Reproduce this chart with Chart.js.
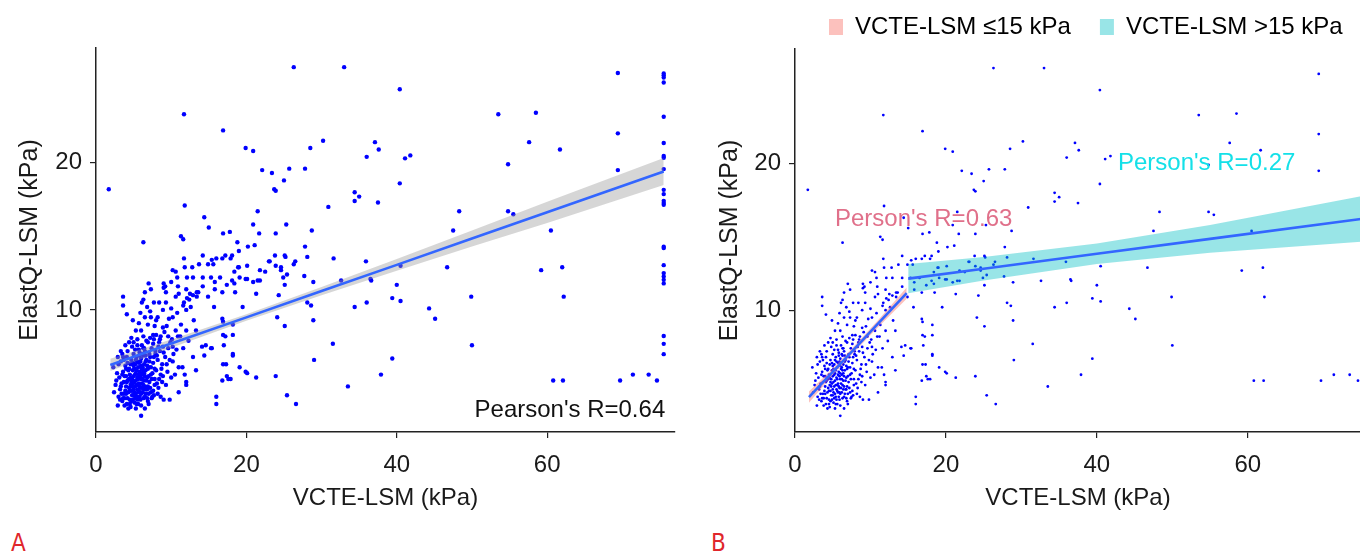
<!DOCTYPE html>
<html>
<head>
<meta charset="utf-8">
<script src="https://cdn.jsdelivr.net/npm/chart.js@4.4.1/dist/chart.umd.min.js"></script>
<style>
  body { margin: 0; background: #fff; width: 1360px; height: 553px; position: relative; overflow: hidden; }
  canvas { position: absolute; top: 0; }
  #chartA { left: 0; }
  #chartB { left: 700px; }
  .tag { position: absolute; top: 529px; color: #e0262b; font: 24px 'Liberation Sans Narrow', 'DejaVu Sans Condensed', sans-serif; }
</style>
</head>
<body>
<canvas id="chartA" width="690" height="520"></canvas>
<canvas id="chartB" width="665" height="520"></canvas>
<div class="tag" style="left:11px">A</div>
<div class="tag" style="left:711px">B</div>
<script>
// [VCTE-LSM, ElastQ-LSM]
const scatterPoints = [
  [1.7,18.2],[11.7,23.3],[16.9,22.2],[19.9,21.0],[20.9,20.8],[22.1,19.5],[23.4,19.3],[25.7,19.6],[25.0,18.8],[23.7,18.2],
  [23.9,18.1],[26.3,26.5],[33.0,26.5],[30.2,21.5],[28.5,21.0],[27.8,19.6],[37.1,21.4],[37.6,20.9],[36.0,20.4],[41.1,20.3],
  [41.8,20.5],[40.4,25.0],[40.4,18.6],[34.4,18.0],[35.0,17.7],[34.4,17.4],[37.5,17.3],[30.9,17.0],[28.7,15.4],[48.3,16.7],
  [47.5,15.4],[27.8,14.3],[53.5,23.3],[58.5,23.4],[57.6,21.4],[61.7,20.9],[54.8,19.9],[54.8,16.7],[55.5,16.5],[60.5,15.4],
  [69.4,26.1],[69.4,22.0],[69.4,19.5],[69.7,5.2],[71.4,5.6],[73.5,5.6],[74.6,5.2],[60.8,5.2],[62.1,5.2],[62.0,12.9],
  [62.2,10.9],[59.2,12.7],[50.0,7.6],[49.9,10.9],[46.7,12.9],[44.3,10.1],[45.1,9.4],[39.4,6.7],[37.9,5.6],[35.9,13.3],
  [36.6,12.0],[36.5,12.1],[36.0,10.5],[40.0,11.7],[39.4,10.8],[40.5,10.6],[40.5,13.0],
  [75.5,26.07],[75.5,25.94],[75.5,25.8],[75.5,25.46],[75.5,23.13],[75.5,21.34],[75.5,20.46],[75.5,20.34],[75.5,19.57],
  [75.5,18.16],[75.5,17.87],[75.5,17.41],[75.5,17.26],[75.5,17.14],[75.5,14.29],[75.5,14.2],[75.5,13.04],[75.5,12.5],
  [75.5,12.27],[75.5,12.04],[75.5,11.8],[75.5,8.23],[75.5,7.69],[75.5,6.99],
  [18.8,14.6],[20.2,14.3],[21.1,14.4],[19.0,14.0],[16.0,13.5],[17.2,13.7],[18.1,13.7],[16.8,13.5],[17.9,13.5],[15.6,13.1],
  [19.0,12.9],[20.1,13.0],[18.4,12.6],[19.1,12.2],[20.1,12.1],[20.9,11.9],[21.5,12.0],[21.8,12.0],[16.5,12.2],[17.4,11.7],
  [18.1,12.0],[15.8,11.4],[16.8,11.2],[18.5,11.2],[21.3,11.1],[23.8,13.7],[23.0,13.3],[25.1,13.7],[25.2,13.6],[23.9,13.0],
  [24.6,12.7],[21.8,12.7],[22.5,12.6],[24.9,12.2],[25.1,11.7],[26.5,13.3],[26.3,13.1],[28.1,13.6],[27.7,12.3],[28.9,11.9],
  [24.3,11.0],[28.1,10.5],[28.6,10.3],[28.9,9.3],[31.6,13.5],[32.6,12.0],[34.4,10.2],[24.1,9.5],[25.1,8.9],[19.5,10.2],
  [16.8,9.4],[18.2,9.0],[17.2,8.2],[18.2,8.3],[17.0,7.6],[18.2,6.9],[15.4,7.4],[17.3,6.3],[19.1,6.1],[19.9,5.8],
  [17.4,5.5],[16.8,5.2],[17.9,5.3],[21.3,5.4],[23.9,5.5],[16.0,4.1],[16.0,3.6],[25.4,4.2],[26.6,3.6],[29.0,6.6],
  [31.5,7.7],[33.5,4.8],[11.8,17.1],[21.5,16.7],[14.4,16.3],[15.0,15.6],[11.3,15.0],[11.6,14.8],[16.9,15.2],[17.8,15.3],
  [20.9,15.8],[21.7,15.2],[23.9,15.2],[25.3,15.8],[6.3,14.6],[25.4,12.4],[23.1,13.3],[24.6,12.9],
  [14.2,13.7],[15.4,13.4],[11.7,13.5],[11.8,12.9],[12.8,12.9],[13.7,13.1],[14.9,13.1],[10.2,12.7],[10.6,12.6],[12.9,12.2],
  [14.2,12.2],[15.3,12.2],[12.1,12.2],[10.0,11.9],[9.0,11.8],[9.0,11.5],[9.3,11.2],[7.0,11.8],[6.5,11.2],[7.3,11.4],
  [6.3,10.7],[6.1,10.5],[3.6,10.9],[3.6,10.3],[4.1,9.7],[10.9,11.6],[11.0,11.1],[10.6,10.9],[12.0,11.4],[12.4,10.7],
  [11.7,10.5],[12.9,11.0],[13.4,11.2],[12.6,10.2],[12.0,10.0],[7.7,10.5],[8.4,10.5],[9.3,10.5],[8.9,10.0],[10.0,10.1],
  [10.2,9.5],[8.2,9.5],[7.3,9.5],[6.9,9.0],[7.8,8.9],[8.9,8.8],[9.4,8.9],[5.7,9.1],[4.9,9.3],[5.3,8.6],
  [4.7,8.1],[6.3,8.2],[7.6,8.3],[8.6,8.2],[9.6,8.2],[7.7,8.0],[10.6,8.6],[12.0,8.6],[13.3,8.6],[10.9,8.2],
  [10.2,7.5],[11.6,7.4],[8.9,7.5],[9.2,6.8],[10.2,6.5],[11.0,6.1],[11.5,6.1],[12.9,6.8],[13.3,5.9],[14.6,7.6],
  [14.1,7.5],[14.4,6.9],[15.3,7.4],[11.8,5.6],[12.0,5.1],[12.0,4.9],[10.5,5.6],[10.0,5.4],[8.8,5.1],[9.3,4.9],
  [7.7,4.2],[8.6,4.1],[9.0,3.9],[9.8,3.9],[11.0,4.4],[6.0,2.8],[5.3,3.3],[2.9,3.5],[2.4,4.4],[2.7,5.2],
  [2.3,6.1],[2.9,6.8],[3.6,6.8],
  [9.2,11.6],[10.8,12.2],[15.8,11.9],[18.4,11.8],[19.9,12.1],[14.2,11.6],[13.6,11.2],[12.5,11.1],[12.1,10.8],[11.6,10.3],
  [13.4,10.9],[14.9,10.9],[15.7,10.2],[16.9,9.2],[16.9,8.3],[18.2,7.0],[16.9,6.3],[20.1,5.7],[17.6,5.3],[18.9,12.9],
  [3.0,4.1],[3.2,4.6],[3.4,5.0],[3.5,3.8],[3.7,4.3],[3.8,5.5],[3.9,6.2],[4.0,4.8],[4.1,3.6],[4.2,5.2],
  [4.3,4.4],[4.4,6.0],[4.5,5.6],[4.5,3.9],[4.6,4.9],[4.7,6.6],[4.8,4.2],[4.8,5.3],[4.9,5.9],[5.0,4.6],
  [5.0,7.0],[5.1,3.7],[5.1,5.1],[5.2,6.3],[5.3,4.3],[5.3,5.7],[5.4,4.9],[5.4,6.8],[5.5,3.9],[5.5,5.4],
  [5.6,6.1],[5.6,4.5],[5.7,7.3],[5.7,5.0],[5.8,4.1],[5.8,5.8],[5.9,6.5],[5.9,4.7],[6.0,5.3],[6.0,3.5],
  [6.1,6.0],[6.1,7.6],[6.2,4.4],[6.2,5.6],[6.3,6.9],[6.3,4.9],[6.4,5.2],[6.4,6.3],[6.5,4.1],[6.5,7.2],
  [6.6,5.9],[6.7,4.6],[6.7,6.6],[6.8,5.4],[6.9,7.8],[6.9,4.8],[7.0,6.1],[7.1,5.1],[7.2,6.8],[7.3,4.4],
  [7.4,7.4],[7.5,5.7],[7.6,6.4],[7.8,4.9],[7.9,7.0],[8.0,5.9],[8.2,6.6],[8.4,5.3],[8.5,7.2],[8.7,6.0],
  [3.1,5.4],[3.3,6.5],[3.6,4.0],[3.6,5.8],[3.9,4.5],[4.0,5.5],[4.1,6.8],[4.2,4.0],[4.3,5.9],[4.4,4.7],
  [4.6,3.4],[4.6,5.4],[4.7,4.5],[4.9,6.4],[4.9,3.9],[5.0,5.5],[5.2,4.0],[5.2,4.8],[5.3,6.6],[5.4,5.9],
  [5.5,4.6],[5.6,3.6],[5.6,5.3],[5.7,6.4],[5.8,4.8],[5.9,3.9],[5.9,5.5],[6.0,6.7],[6.0,4.3],[6.1,5.0],
  [6.2,7.0],[6.3,4.0],[6.3,5.9],[6.4,4.6],[6.5,5.5],[6.6,6.9],[6.6,4.3],[6.7,5.2],[6.8,6.2],[6.9,3.8],
  [7.0,5.5],[7.1,7.0],[7.2,4.7],[7.3,6.1],[7.4,5.3],[7.6,4.5],[7.7,6.8],[8.1,5.0],[8.3,7.5],[8.6,5.6],
  [2.6,4.9],[2.8,5.7],[3.0,6.3],[3.2,3.9],[3.4,4.3],[3.5,7.0],[3.7,5.1],[3.8,3.5],[4.0,6.0],[4.2,7.2],
  [4.3,3.3],[4.5,4.5],[4.7,5.1],[4.8,7.5],[5.0,4.2],[5.1,6.0],[5.2,5.6],[5.4,4.1],[5.5,7.6],[5.7,4.4],
  [5.8,6.9],[6.0,5.7],[6.2,6.1],[6.4,7.4],[6.5,3.3],[6.7,7.9],[6.8,4.0],[7.0,3.6],[7.2,8.1],[7.5,4.1],
  [7.8,5.3],[8.0,8.3],[8.2,4.3],[8.8,6.3],[9.0,7.1],[9.5,5.8],[9.8,6.6],[10.3,7.0],
  [5.0,7.8],[5.5,8.0],[6.0,8.6],[6.5,9.5],[7.2,9.9],[5.9,9.8],[6.8,10.2],[4.4,7.8],[3.9,7.6],[3.3,7.2],
  [8.0,9.3],[9.7,9.4],[10.8,9.8],[11.3,9.0],[9.9,7.8],[8.4,7.8],[7.9,7.2],
  [3.3,4.8],[3.5,5.6],[3.7,6.6],[3.8,4.0],[4.0,4.3],[4.1,5.1],[4.2,6.4],[4.4,5.3],[4.5,3.6],[4.6,6.3],
  [4.7,3.8],[4.8,4.8],[4.9,5.0],[5.0,6.2],[5.1,4.4],[5.2,7.3],[5.3,5.2],[5.4,3.6],[5.5,6.5],[5.6,4.9],
  [5.7,5.6],[5.8,7.1],[5.9,4.4],[6.0,6.2],[6.1,4.7],[6.2,5.3],[6.3,7.4],[6.4,5.7],[6.5,4.8],[6.6,6.5],
  [6.8,4.6],[6.9,6.0],[7.0,4.3],[7.1,6.5],[7.3,5.6],[7.4,4.0],[7.6,7.7],[7.8,6.0],[8.1,6.9],[8.3,4.7],
  [8.5,8.0],[8.9,5.5],[9.1,8.5],[9.4,6.3],[9.6,7.4],[10.1,8.0],[10.7,7.3],[11.2,8.2],[12.3,7.9],[13.0,9.3]
];

// panel A: overall linear fit with 95% band
const fitAX = [1.9, 10, 20, 30, 40, 50, 60, 75.5];
const fitAY = [6.26, 7.71, 9.49, 11.28, 13.06, 14.85, 16.63, 19.40];
const fitALow = [5.84, 7.43, 9.27, 11.00, 12.66, 14.30, 15.91, 18.48];
const fitAHigh = [6.68, 7.99, 9.71, 11.56, 13.46, 15.40, 17.35, 20.32];

// panel B: split fits at 15 kPa
const fitB1X = [1.85, 5, 8, 11, 14.8];
const fitB1Y = [4.08, 5.80, 7.44, 9.08, 11.16];
const fitB1Low = [3.70, 5.58, 7.24, 8.84, 10.78];
const fitB1High = [4.46, 6.02, 7.64, 9.32, 11.54];
const fitB2X = [15, 25, 40, 55, 75];
const fitB2Y = [12.15, 12.83, 13.85, 14.86, 16.22];
const fitB2Low = [11.15, 12.03, 13.15, 13.91, 14.67];
const fitB2High = [13.15, 13.63, 14.55, 15.81, 17.77];

const xTicks = [0, 20, 40, 60];
const yTicks = [10, 20];
const legendLabels = ['VCTE-LSM \u226415 kPa   ', 'VCTE-LSM >15 kPa  '];
const notesA = [{ text: "Pearson's R=0.64", x: 75.7, y: 3.2, color: '#111', align: 'right' }];
const notesB = [
  { text: "Person's R=0.63", x: 5.3, y: 16.2, color: '#e0708a', align: 'left' },
  { text: "Person's R=0.27", x: 42.8, y: 20.0, color: '#14e0e8', align: 'left' }
];

const FONT = "'Liberation Sans', Arial, sans-serif";
const BLUE = '#3366ff';
const PINK_FILL = 'rgba(248,118,109,0.45)';
const CYAN_FILL = 'rgba(0,191,196,0.4)';

const toXY = (xs, ys) => xs.map((v, i) => ({ x: v, y: ys[i] }));

const notePlugin = {
  id: 'notes',
  afterDatasetsDraw(chart, args, opts) {
    const { ctx, scales } = chart;
    (opts.items || []).forEach(n => {
      ctx.save();
      ctx.font = '24px ' + FONT;
      ctx.fillStyle = n.color;
      ctx.textAlign = n.align;
      ctx.textBaseline = 'middle';
      ctx.fillText(n.text, scales.x.getPixelForValue(n.x), scales.y.getPixelForValue(n.y));
      ctx.restore();
    });
  }
};

function bandSets(xs, low, high, fill) {
  return [
    { type: 'line', data: toXY(xs, low), borderWidth: 0, pointRadius: 0, fill: false, order: 3 },
    { type: 'line', data: toXY(xs, high), borderWidth: 0, pointRadius: 0, fill: '-1', backgroundColor: fill, order: 3 }
  ];
}

function lineSet(xs, ys) {
  return { type: 'line', data: toXY(xs, ys), borderColor: BLUE, borderWidth: 2.6, pointRadius: 0, fill: false, order: 1 };
}

function makeScales(xMax, yWidth) {
  return {
    x: {
      type: 'linear', min: 0, max: xMax,
      afterBuildTicks: s => { s.ticks = xTicks.map(v => ({ value: v })); },
      afterFit: s => { s.height = 88; },
      grid: { display: true, drawOnChartArea: false, drawTicks: true, tickLength: 6, color: '#222', lineWidth: 1.2 },
      border: { display: true, color: '#222', width: 1.5 },
      ticks: { color: '#1a1a1a', padding: 13, maxRotation: 0, font: { size: 24, family: FONT } },
      title: { display: true, text: 'VCTE-LSM (kPa)', color: '#1a1a1a', padding: { top: 0, bottom: 7 }, font: { size: 24, family: FONT } }
    },
    y: {
      type: 'linear', min: 1.7, max: 27.8,
      afterBuildTicks: s => { s.ticks = yTicks.map(v => ({ value: v })); },
      afterFit: s => { s.width = yWidth; },
      grid: { display: true, drawOnChartArea: false, drawTicks: true, tickLength: 6, color: '#222', lineWidth: 1.2 },
      border: { display: true, color: '#222', width: 1.5 },
      ticks: { color: '#1a1a1a', padding: 8, font: { size: 24, family: FONT } },
      title: { display: true, text: 'ElastQ-LSM (kPa)', color: '#1a1a1a', padding: { top: 15, bottom: 0 }, font: { size: 25, family: FONT } }
    }
  };
}

const scatterData = scatterPoints.map(p => ({ x: p[0], y: p[1] }));

new Chart(document.getElementById('chartA'), {
  type: 'scatter',
  data: {
    datasets: [
      { data: scatterData, backgroundColor: '#0000ff', borderWidth: 0, pointRadius: 2.2, order: 4 },
      ...bandSets(fitAX, fitALow, fitAHigh, 'rgba(153,153,153,0.4)'),
      lineSet(fitAX, fitAY)
    ]
  },
  options: {
    responsive: false, animation: false,
    layout: { padding: { top: 48, right: 15, left: 0, bottom: 0 } },
    scales: makeScales(77, 96),
    plugins: { legend: { display: false }, tooltip: { enabled: false }, notes: { items: notesA } }
  },
  plugins: [notePlugin]
});

new Chart(document.getElementById('chartB'), {
  type: 'scatter',
  data: {
    datasets: [
      { data: scatterData, backgroundColor: '#0000ff', borderWidth: 0, pointRadius: 1.4, order: 4 },
      ...bandSets(fitB1X, fitB1Low, fitB1High, PINK_FILL),
      ...bandSets(fitB2X, fitB2Low, fitB2High, CYAN_FILL),
      lineSet(fitB1X, fitB1Y),
      lineSet(fitB2X, fitB2Y)
    ]
  },
  options: {
    responsive: false, animation: false,
    layout: { padding: { top: 6, right: 0, left: 0, bottom: 0 } },
    scales: makeScales(75, 95),
    plugins: {
      tooltip: { enabled: false },
      notes: { items: notesB },
      legend: {
        display: true, position: 'top', align: 'end',
        labels: {
          boxWidth: 14, boxHeight: 16, padding: 9, color: '#111',
          font: { size: 24, family: FONT },
          generateLabels: () => legendLabels.map((t, i) => ({
            text: t, fillStyle: i === 0 ? PINK_FILL : CYAN_FILL,
            strokeStyle: 'rgba(0,0,0,0)', lineWidth: 0, hidden: false, datasetIndex: i
          }))
        }
      }
    }
  },
  plugins: [notePlugin]
});
</script>
</body>
</html>
